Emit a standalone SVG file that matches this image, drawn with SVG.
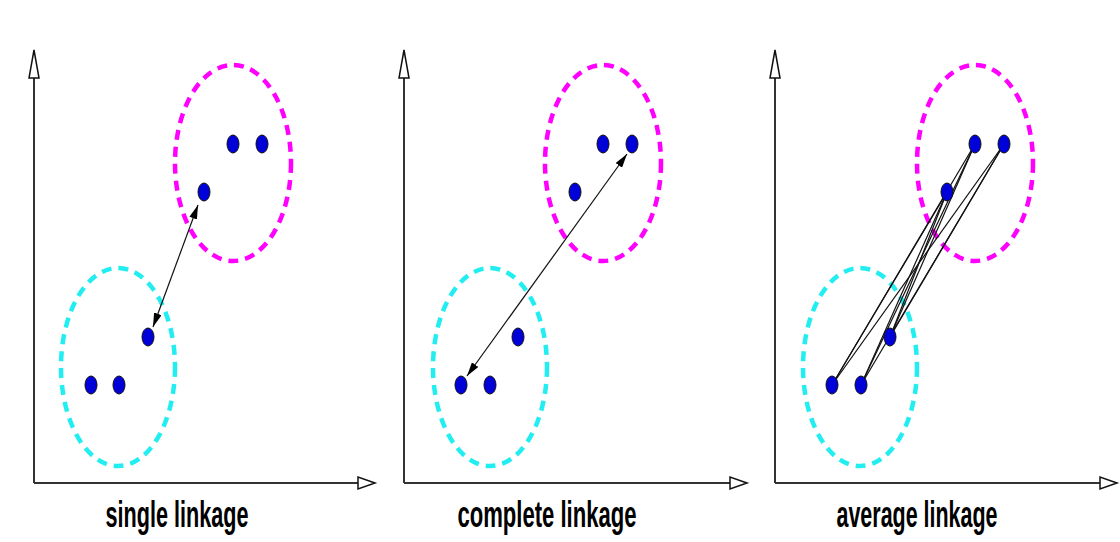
<svg xmlns="http://www.w3.org/2000/svg" width="1120" height="542" viewBox="0 0 1120 542">
<style>
.axis{stroke:#333;stroke-width:2;fill:none}
.ahead{fill:#fff;stroke:#111;stroke-width:1.5}
.mag{fill:none;stroke:#ff00ff;stroke-width:4.5;stroke-dasharray:10 7}
.cyn{fill:none;stroke:#22eef2;stroke-width:4.5;stroke-dasharray:10 7}
.dot{fill:#0000d8;stroke:#111;stroke-width:1}
.link{stroke:#111;stroke-width:1.2;fill:none}
.lbl{font-family:"Liberation Sans",Arial,sans-serif;font-weight:bold;font-size:37px;fill:#000;text-anchor:middle}
</style>
<defs>
<marker id="arr" viewBox="0 0 14 8" refX="14" refY="4" markerWidth="14" markerHeight="8" markerUnits="userSpaceOnUse" orient="auto-start-reverse">
<path d="M0,0 L14,4 L0,8 z" fill="#000"/>
</marker>
</defs>
<rect width="1120" height="542" fill="#fff"/>

<g id="panel-single">
<g id="axes1">
<line class="axis" x1="34" y1="483" x2="34" y2="76"/>
<line class="axis" x1="34" y1="483" x2="360" y2="483"/>
<path class="ahead" d="M34,50 L39,78 L29,78 z"/>
<path class="ahead" d="M375,483 L358,477 L358,489 z"/>
</g>
<ellipse id="c1-mag" class="mag" cx="233" cy="163" rx="58" ry="98"/>
<ellipse id="c1-cyn" class="cyn" cx="118" cy="367" rx="57" ry="99"/>
<g id="p1-dots">
<ellipse class="dot" cx="233" cy="144" rx="6" ry="9"/>
<ellipse class="dot" cx="262" cy="144" rx="6" ry="9"/>
<ellipse class="dot" cx="204" cy="192" rx="6" ry="9"/>
<ellipse class="dot" cx="148" cy="337" rx="6" ry="9"/>
<ellipse class="dot" cx="91" cy="385" rx="6" ry="9"/>
<ellipse class="dot" cx="119" cy="385" rx="6" ry="9"/>
</g>
<text class="lbl" x="177" y="527" textLength="143" lengthAdjust="spacingAndGlyphs">single linkage</text>
</g>

<g id="panel-complete">
<g id="axes2">
<line class="axis" x1="404" y1="483" x2="404" y2="76"/>
<line class="axis" x1="404" y1="483" x2="732" y2="483"/>
<path class="ahead" d="M404,50 L409,78 L399,78 z"/>
<path class="ahead" d="M747,483 L730,477 L730,489 z"/>
</g>
<ellipse id="c2-mag" class="mag" cx="603" cy="163" rx="58" ry="98"/>
<ellipse id="c2-cyn" class="cyn" cx="490" cy="367" rx="57" ry="99"/>
<g id="p2-dots">
<ellipse class="dot" cx="603" cy="144" rx="6" ry="9"/>
<ellipse class="dot" cx="632" cy="144" rx="6" ry="9"/>
<ellipse class="dot" cx="575" cy="192" rx="6" ry="9"/>
<ellipse class="dot" cx="518" cy="337" rx="6" ry="9"/>
<ellipse class="dot" cx="461" cy="385" rx="6" ry="9"/>
<ellipse class="dot" cx="490" cy="385" rx="6" ry="9"/>
</g>
<text class="lbl" x="547" y="527" textLength="179" lengthAdjust="spacingAndGlyphs">complete linkage</text>
</g>

<g id="panel-average">
<g id="axes3">
<line class="axis" x1="775" y1="483" x2="775" y2="76"/>
<line class="axis" x1="775" y1="483" x2="1102" y2="483"/>
<path class="ahead" d="M775,50 L780,78 L770,78 z"/>
<path class="ahead" d="M1117,483 L1100,477 L1100,489 z"/>
</g>
<ellipse id="c3-mag" class="mag" cx="975" cy="163" rx="58" ry="98"/>
<ellipse id="c3-cyn" class="cyn" cx="860" cy="367" rx="57" ry="99"/>
<text class="lbl" x="917" y="527" textLength="161" lengthAdjust="spacingAndGlyphs">average linkage</text>
</g>

<g id="connectors">
<line class="link" x1="153" y1="327" x2="198" y2="205" marker-start="url(#arr)" marker-end="url(#arr)"/>
<line class="link" x1="467" y1="376" x2="627" y2="154" marker-start="url(#arr)" marker-end="url(#arr)"/>
<line class="link" x1="832" y1="385" x2="975" y2="144"/>
<line class="link" x1="832" y1="385" x2="1004" y2="144"/>
<line class="link" x1="832" y1="385" x2="947" y2="192"/>
<line class="link" x1="861" y1="385" x2="975" y2="144"/>
<line class="link" x1="861" y1="385" x2="1004" y2="144"/>
<line class="link" x1="861" y1="385" x2="947" y2="192"/>
<line class="link" x1="890" y1="337" x2="975" y2="144"/>
<line class="link" x1="890" y1="337" x2="1004" y2="144"/>
<line class="link" x1="890" y1="337" x2="947" y2="192"/>
</g>

<g id="p3-dots">
<ellipse class="dot" cx="975" cy="144" rx="6" ry="9"/>
<ellipse class="dot" cx="1004" cy="144" rx="6" ry="9"/>
<ellipse class="dot" cx="947" cy="192" rx="6" ry="9"/>
<ellipse class="dot" cx="890" cy="337" rx="6" ry="9"/>
<ellipse class="dot" cx="832" cy="385" rx="6" ry="9"/>
<ellipse class="dot" cx="861" cy="385" rx="6" ry="9"/>
</g>
</svg>
